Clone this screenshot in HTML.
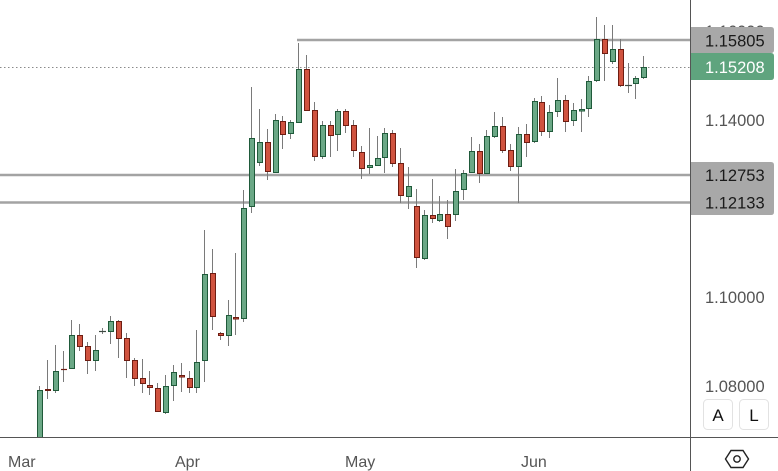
<!DOCTYPE html>
<html>
<head>
<meta charset="utf-8">
<style>
  html,body{margin:0;padding:0;background:#fff;}
  body{width:778px;height:471px;overflow:hidden;font-family:"Liberation Sans",sans-serif;}
  svg{display:block;}
  .w{stroke:#7a7a7a;stroke-width:1;}
  .g{fill:#6ba886;stroke:#1f5a3a;stroke-width:1;}
  .r{fill:#d0533f;stroke:#6e1d12;stroke-width:1;}
  .tick{font-size:16.5px;fill:#555;}
  .lab{font-size:16.5px;fill:#1a1a1a;}
  .xl{font-size:16px;fill:#555;}
</style>
</head>
<body>
<svg width="778" height="471" viewBox="0 0 778 471" xmlns="http://www.w3.org/2000/svg">
  <rect width="778" height="471" fill="#fff"/>
  <!-- horizontal drawn lines -->
  <line x1="297" y1="40" x2="691" y2="40" stroke="#a3a3a3" stroke-width="2.6"/>
  <line x1="0" y1="175" x2="691" y2="175" stroke="#a3a3a3" stroke-width="2.6"/>
  <line x1="0" y1="202.5" x2="691" y2="202.5" stroke="#a3a3a3" stroke-width="2.6"/>
  <!-- dotted current price line -->
  <line x1="0" y1="67.5" x2="691" y2="67.5" stroke="#8a8a8a" stroke-width="1" stroke-dasharray="1.5 2.5"/>

  <g clip-path="url(#plot)">
  <defs><clipPath id="plot"><rect x="0" y="0" width="690" height="437"/></clipPath></defs>
  <!-- candles -->
  <line class="w" x1="39.5" y1="386" x2="39.5" y2="437"/><rect class="g" x="37.5" y="390.5" width="5" height="47"/>
  <line class="w" x1="47.5" y1="360" x2="47.5" y2="399"/><rect class="r" x="45.5" y="389.5" width="5" height="1"/>
  <line class="w" x1="55.5" y1="345" x2="55.5" y2="393"/><rect class="g" x="53.5" y="371.5" width="5" height="19"/>
  <line class="w" x1="63.5" y1="351" x2="63.5" y2="382"/><line x1="61" y1="369.5" x2="67" y2="369.5" stroke="#6e1d12" stroke-width="1.2"/>
  <line class="w" x1="71.5" y1="320" x2="71.5" y2="369"/><rect class="g" x="69.5" y="335.5" width="5" height="33"/>
  <line class="w" x1="79.5" y1="324" x2="79.5" y2="351"/><rect class="r" x="77.5" y="335.5" width="5" height="11"/>
  <line class="w" x1="87.5" y1="342" x2="87.5" y2="374"/><rect class="r" x="85.5" y="346.5" width="5" height="14"/>
  <line class="w" x1="95.5" y1="335" x2="95.5" y2="371"/><rect class="g" x="93.5" y="350.5" width="5" height="10"/>
  <line class="w" x1="102.5" y1="328" x2="102.5" y2="334"/><line x1="99" y1="331.5" x2="106" y2="331.5" stroke="#3d4a42" stroke-width="1.2"/>
  <line class="w" x1="110.5" y1="316" x2="110.5" y2="344"/><rect class="g" x="108.5" y="321.5" width="5" height="10"/>
  <line class="w" x1="118.5" y1="320" x2="118.5" y2="358"/><rect class="r" x="116.5" y="321.5" width="5" height="17"/>
  <line class="w" x1="126.5" y1="333" x2="126.5" y2="378"/><rect class="r" x="124.5" y="338.5" width="5" height="22"/>
  <line class="w" x1="134.5" y1="358" x2="134.5" y2="386"/><rect class="r" x="132.5" y="360.5" width="5" height="18"/>
  <line class="w" x1="142.5" y1="359" x2="142.5" y2="393"/><rect class="r" x="140.5" y="378.5" width="5" height="5"/>
  <line class="w" x1="149.5" y1="371" x2="149.5" y2="395"/><rect class="r" x="147.5" y="385.5" width="5" height="2"/>
  <line class="w" x1="157.5" y1="383" x2="157.5" y2="412"/><rect class="r" x="155.5" y="388.5" width="5" height="23"/>
  <line class="w" x1="165.5" y1="375" x2="165.5" y2="414"/><rect class="g" x="163.5" y="386.5" width="5" height="26"/>
  <line class="w" x1="173.5" y1="365" x2="173.5" y2="401"/><rect class="g" x="171.5" y="372.5" width="5" height="13"/>
  <line class="w" x1="181.5" y1="363" x2="181.5" y2="392"/><rect class="r" x="179.5" y="375.5" width="5" height="1.5"/>
  <line class="w" x1="189.5" y1="371" x2="189.5" y2="393"/><rect class="r" x="187.5" y="378.5" width="5" height="9"/>
  <line class="w" x1="196.5" y1="330" x2="196.5" y2="393"/><rect class="g" x="194.5" y="362.5" width="5" height="25"/>
  <line class="w" x1="204.5" y1="230" x2="204.5" y2="382"/><rect class="g" x="202.5" y="274.5" width="5" height="86"/>
  <line class="w" x1="212.5" y1="249" x2="212.5" y2="330"/><rect class="r" x="210.5" y="273.5" width="5" height="43"/>
  <line class="w" x1="220.5" y1="332" x2="220.5" y2="340"/><rect class="r" x="218.5" y="333.5" width="5" height="2"/>
  <line class="w" x1="228.5" y1="300" x2="228.5" y2="346"/><rect class="g" x="226.5" y="315.5" width="5" height="20"/>
  <line class="w" x1="235.5" y1="253" x2="235.5" y2="335"/><rect class="r" x="233.5" y="317.5" width="5" height="1.5"/>
  <line class="w" x1="243.5" y1="190" x2="243.5" y2="322"/><rect class="g" x="241.5" y="208.5" width="5" height="110"/>
  <line class="w" x1="251.5" y1="87" x2="251.5" y2="213"/><rect class="g" x="249.5" y="138.5" width="5" height="68"/>
  <line class="w" x1="259.5" y1="109" x2="259.5" y2="166"/><rect class="g" x="257.5" y="142.5" width="5" height="20"/>
  <line class="w" x1="267.5" y1="129" x2="267.5" y2="180"/><rect class="r" x="265.5" y="142.5" width="5" height="29"/>
  <line class="w" x1="275.5" y1="114" x2="275.5" y2="173"/><rect class="g" x="273.5" y="120.5" width="5" height="52"/>
  <line class="w" x1="282.5" y1="116" x2="282.5" y2="149"/><rect class="r" x="280.5" y="121.5" width="5" height="13"/>
  <line class="w" x1="290.5" y1="120" x2="290.5" y2="139"/><rect class="g" x="288.5" y="122.5" width="5" height="11"/>
  <line class="w" x1="298.5" y1="43" x2="298.5" y2="123"/><rect class="g" x="296.5" y="69.5" width="5" height="53"/>
  <line class="w" x1="306.5" y1="55" x2="306.5" y2="111"/><rect class="r" x="304.5" y="69.5" width="5" height="41"/>
  <line class="w" x1="314.5" y1="102" x2="314.5" y2="161"/><rect class="r" x="312.5" y="110.5" width="5" height="46"/>
  <line class="w" x1="322.5" y1="121" x2="322.5" y2="159"/><rect class="g" x="320.5" y="125.5" width="5" height="31"/>
  <line class="w" x1="330.5" y1="121" x2="330.5" y2="157"/><rect class="r" x="328.5" y="125.5" width="5" height="10"/>
  <line class="w" x1="337.5" y1="109" x2="337.5" y2="151"/><rect class="g" x="335.5" y="111.5" width="5" height="23"/>
  <line class="w" x1="345.5" y1="109" x2="345.5" y2="133"/><rect class="r" x="343.5" y="111.5" width="5" height="14"/>
  <line class="w" x1="353.5" y1="120" x2="353.5" y2="157"/><rect class="r" x="351.5" y="125.5" width="5" height="25"/>
  <line class="w" x1="361.5" y1="146" x2="361.5" y2="179"/><rect class="r" x="359.5" y="152.5" width="5" height="16"/>
  <line class="w" x1="369.5" y1="128" x2="369.5" y2="174"/><rect class="g" x="367.5" y="165.5" width="5" height="2"/>
  <line class="w" x1="377.5" y1="136" x2="377.5" y2="166"/><rect class="g" x="375.5" y="158.5" width="5" height="7"/>
  <line class="w" x1="384.5" y1="128" x2="384.5" y2="173"/><rect class="g" x="382.5" y="133.5" width="5" height="24"/>
  <line class="w" x1="392.5" y1="130" x2="392.5" y2="167"/><rect class="r" x="390.5" y="133.5" width="5" height="30"/>
  <line class="w" x1="400.5" y1="148" x2="400.5" y2="203"/><rect class="r" x="398.5" y="163.5" width="5" height="32"/>
  <line class="w" x1="408.5" y1="167" x2="408.5" y2="209"/><rect class="g" x="406.5" y="186.5" width="5" height="10"/>
  <line class="w" x1="416.5" y1="189" x2="416.5" y2="268"/><rect class="r" x="414.5" y="206.5" width="5" height="51"/>
  <line class="w" x1="424.5" y1="210" x2="424.5" y2="260"/><rect class="g" x="422.5" y="215.5" width="5" height="43"/>
  <line class="w" x1="432.5" y1="179" x2="432.5" y2="223"/><rect class="r" x="430.5" y="215.5" width="5" height="3"/>
  <line class="w" x1="439.5" y1="196" x2="439.5" y2="222"/><rect class="g" x="437.5" y="214.5" width="5" height="6"/>
  <line class="w" x1="447.5" y1="200" x2="447.5" y2="239"/><rect class="r" x="445.5" y="214.5" width="5" height="12"/>
  <line class="w" x1="455.5" y1="169" x2="455.5" y2="221"/><rect class="g" x="453.5" y="191.5" width="5" height="23"/>
  <line class="w" x1="463.5" y1="170" x2="463.5" y2="200"/><rect class="g" x="461.5" y="173.5" width="5" height="16"/>
  <line class="w" x1="471.5" y1="137" x2="471.5" y2="173"/><rect class="g" x="469.5" y="151.5" width="5" height="21"/>
  <line class="w" x1="479.5" y1="144" x2="479.5" y2="183"/><rect class="r" x="477.5" y="151.5" width="5" height="22"/>
  <line class="w" x1="486.5" y1="130" x2="486.5" y2="174"/><rect class="g" x="484.5" y="136.5" width="5" height="37"/>
  <line class="w" x1="494.5" y1="112" x2="494.5" y2="138"/><rect class="g" x="492.5" y="126.5" width="5" height="10"/>
  <line class="w" x1="502.5" y1="117" x2="502.5" y2="153"/><rect class="r" x="500.5" y="126.5" width="5" height="24"/>
  <line class="w" x1="510.5" y1="144" x2="510.5" y2="171"/><rect class="r" x="508.5" y="150.5" width="5" height="16"/>
  <line class="w" x1="518.5" y1="127" x2="518.5" y2="203"/><rect class="g" x="516.5" y="134.5" width="5" height="32"/>
  <line class="w" x1="526.5" y1="124" x2="526.5" y2="157"/><rect class="r" x="524.5" y="134.5" width="5" height="8"/>
  <line class="w" x1="534.5" y1="98" x2="534.5" y2="143"/><rect class="g" x="532.5" y="101.5" width="5" height="40"/>
  <line class="w" x1="541.5" y1="96" x2="541.5" y2="136"/><rect class="r" x="539.5" y="102.5" width="5" height="29"/>
  <line class="w" x1="549.5" y1="105" x2="549.5" y2="138"/><rect class="g" x="547.5" y="112.5" width="5" height="19"/>
  <line class="w" x1="557.5" y1="78" x2="557.5" y2="117"/><rect class="g" x="555.5" y="100.5" width="5" height="11"/>
  <line class="w" x1="565.5" y1="95" x2="565.5" y2="132"/><rect class="r" x="563.5" y="100.5" width="5" height="21"/>
  <line class="w" x1="573.5" y1="103" x2="573.5" y2="126"/><rect class="g" x="571.5" y="110.5" width="5" height="10"/>
  <line class="w" x1="581.5" y1="99" x2="581.5" y2="132"/><rect class="g" x="579.5" y="109.5" width="5" height="1.5"/>
  <line class="w" x1="588.5" y1="76" x2="588.5" y2="117"/><rect class="g" x="586.5" y="81.5" width="5" height="27"/>
  <line class="w" x1="596.5" y1="17" x2="596.5" y2="82"/><rect class="g" x="594.5" y="39.5" width="5" height="41"/>
  <line class="w" x1="604.5" y1="25" x2="604.5" y2="81"/><rect class="r" x="602.5" y="39.5" width="5" height="14"/>
  <line class="w" x1="612.5" y1="25" x2="612.5" y2="64"/><rect class="g" x="610.5" y="49.5" width="5" height="12"/>
  <line class="w" x1="620.5" y1="39" x2="620.5" y2="87"/><rect class="r" x="618.5" y="49.5" width="5" height="36"/>
  <line class="w" x1="628.5" y1="63" x2="628.5" y2="93"/><line x1="625" y1="85.5" x2="632" y2="85.5" stroke="#3d4a42" stroke-width="1.2"/>
  <line class="w" x1="635.5" y1="76" x2="635.5" y2="99"/><rect class="g" x="633.5" y="78.5" width="5" height="5"/>
  <line class="w" x1="643.5" y1="56" x2="643.5" y2="79"/><rect class="g" x="641.5" y="67.5" width="5" height="10"/>
  </g>

  <!-- axes -->
  <line x1="0" y1="437.5" x2="778" y2="437.5" stroke="#555" stroke-width="1"/>
  <line x1="690.5" y1="0" x2="690.5" y2="471" stroke="#555" stroke-width="1"/>

  <!-- price ticks -->
  <text class="tick" x="705" y="37">1.16000</text>
  <text class="tick" x="705" y="126">1.14000</text>
  <text class="tick" x="705" y="303">1.10000</text>
  <text class="tick" x="705" y="392">1.08000</text>

  <!-- price labels -->
  <path d="M691 27 H771 Q774 27 774 30 V50 Q774 53 771 53 H691 Z" fill="#a8a8a8"/>
  <text class="lab" x="705" y="46.5">1.15805</text>
  <path d="M691 53 H771 Q774 53 774 56 V77 Q774 80 771 80 H691 Z" fill="#5fa47e"/>
  <text class="lab" x="705" y="73" fill="#fff" style="fill:#fff">1.15208</text>
  <path d="M691 162 H771 Q774 162 774 165 V212 Q774 215 771 215 H691 Z" fill="#a8a8a8"/>
  <text class="lab" x="705" y="181">1.12753</text>
  <text class="lab" x="705" y="208.5">1.12133</text>

  <!-- x labels -->
  <text class="xl" x="8" y="467">Mar</text>
  <text class="xl" x="175" y="467">Apr</text>
  <text class="xl" x="345" y="467">May</text>
  <text class="xl" x="521" y="467">Jun</text>

  <!-- A / L buttons -->
  <rect x="703.5" y="399.5" width="29" height="30" rx="4" fill="#fff" stroke="#e2e2e2"/>
  <rect x="739.5" y="399.5" width="29" height="30" rx="4" fill="#fff" stroke="#e2e2e2"/>
  <text x="718" y="421" font-size="17" fill="#111" text-anchor="middle">A</text>
  <text x="754" y="421" font-size="17" fill="#111" text-anchor="middle">L</text>

  <!-- settings hexagon -->
  <polygon points="731,450.5 743,450.5 748.5,459 743,467.5 731,467.5 725.5,459" fill="none" stroke="#222" stroke-width="1.4"/>
  <circle cx="737" cy="459" r="3.2" fill="none" stroke="#222" stroke-width="1.4"/>
</svg>
</body>
</html>
